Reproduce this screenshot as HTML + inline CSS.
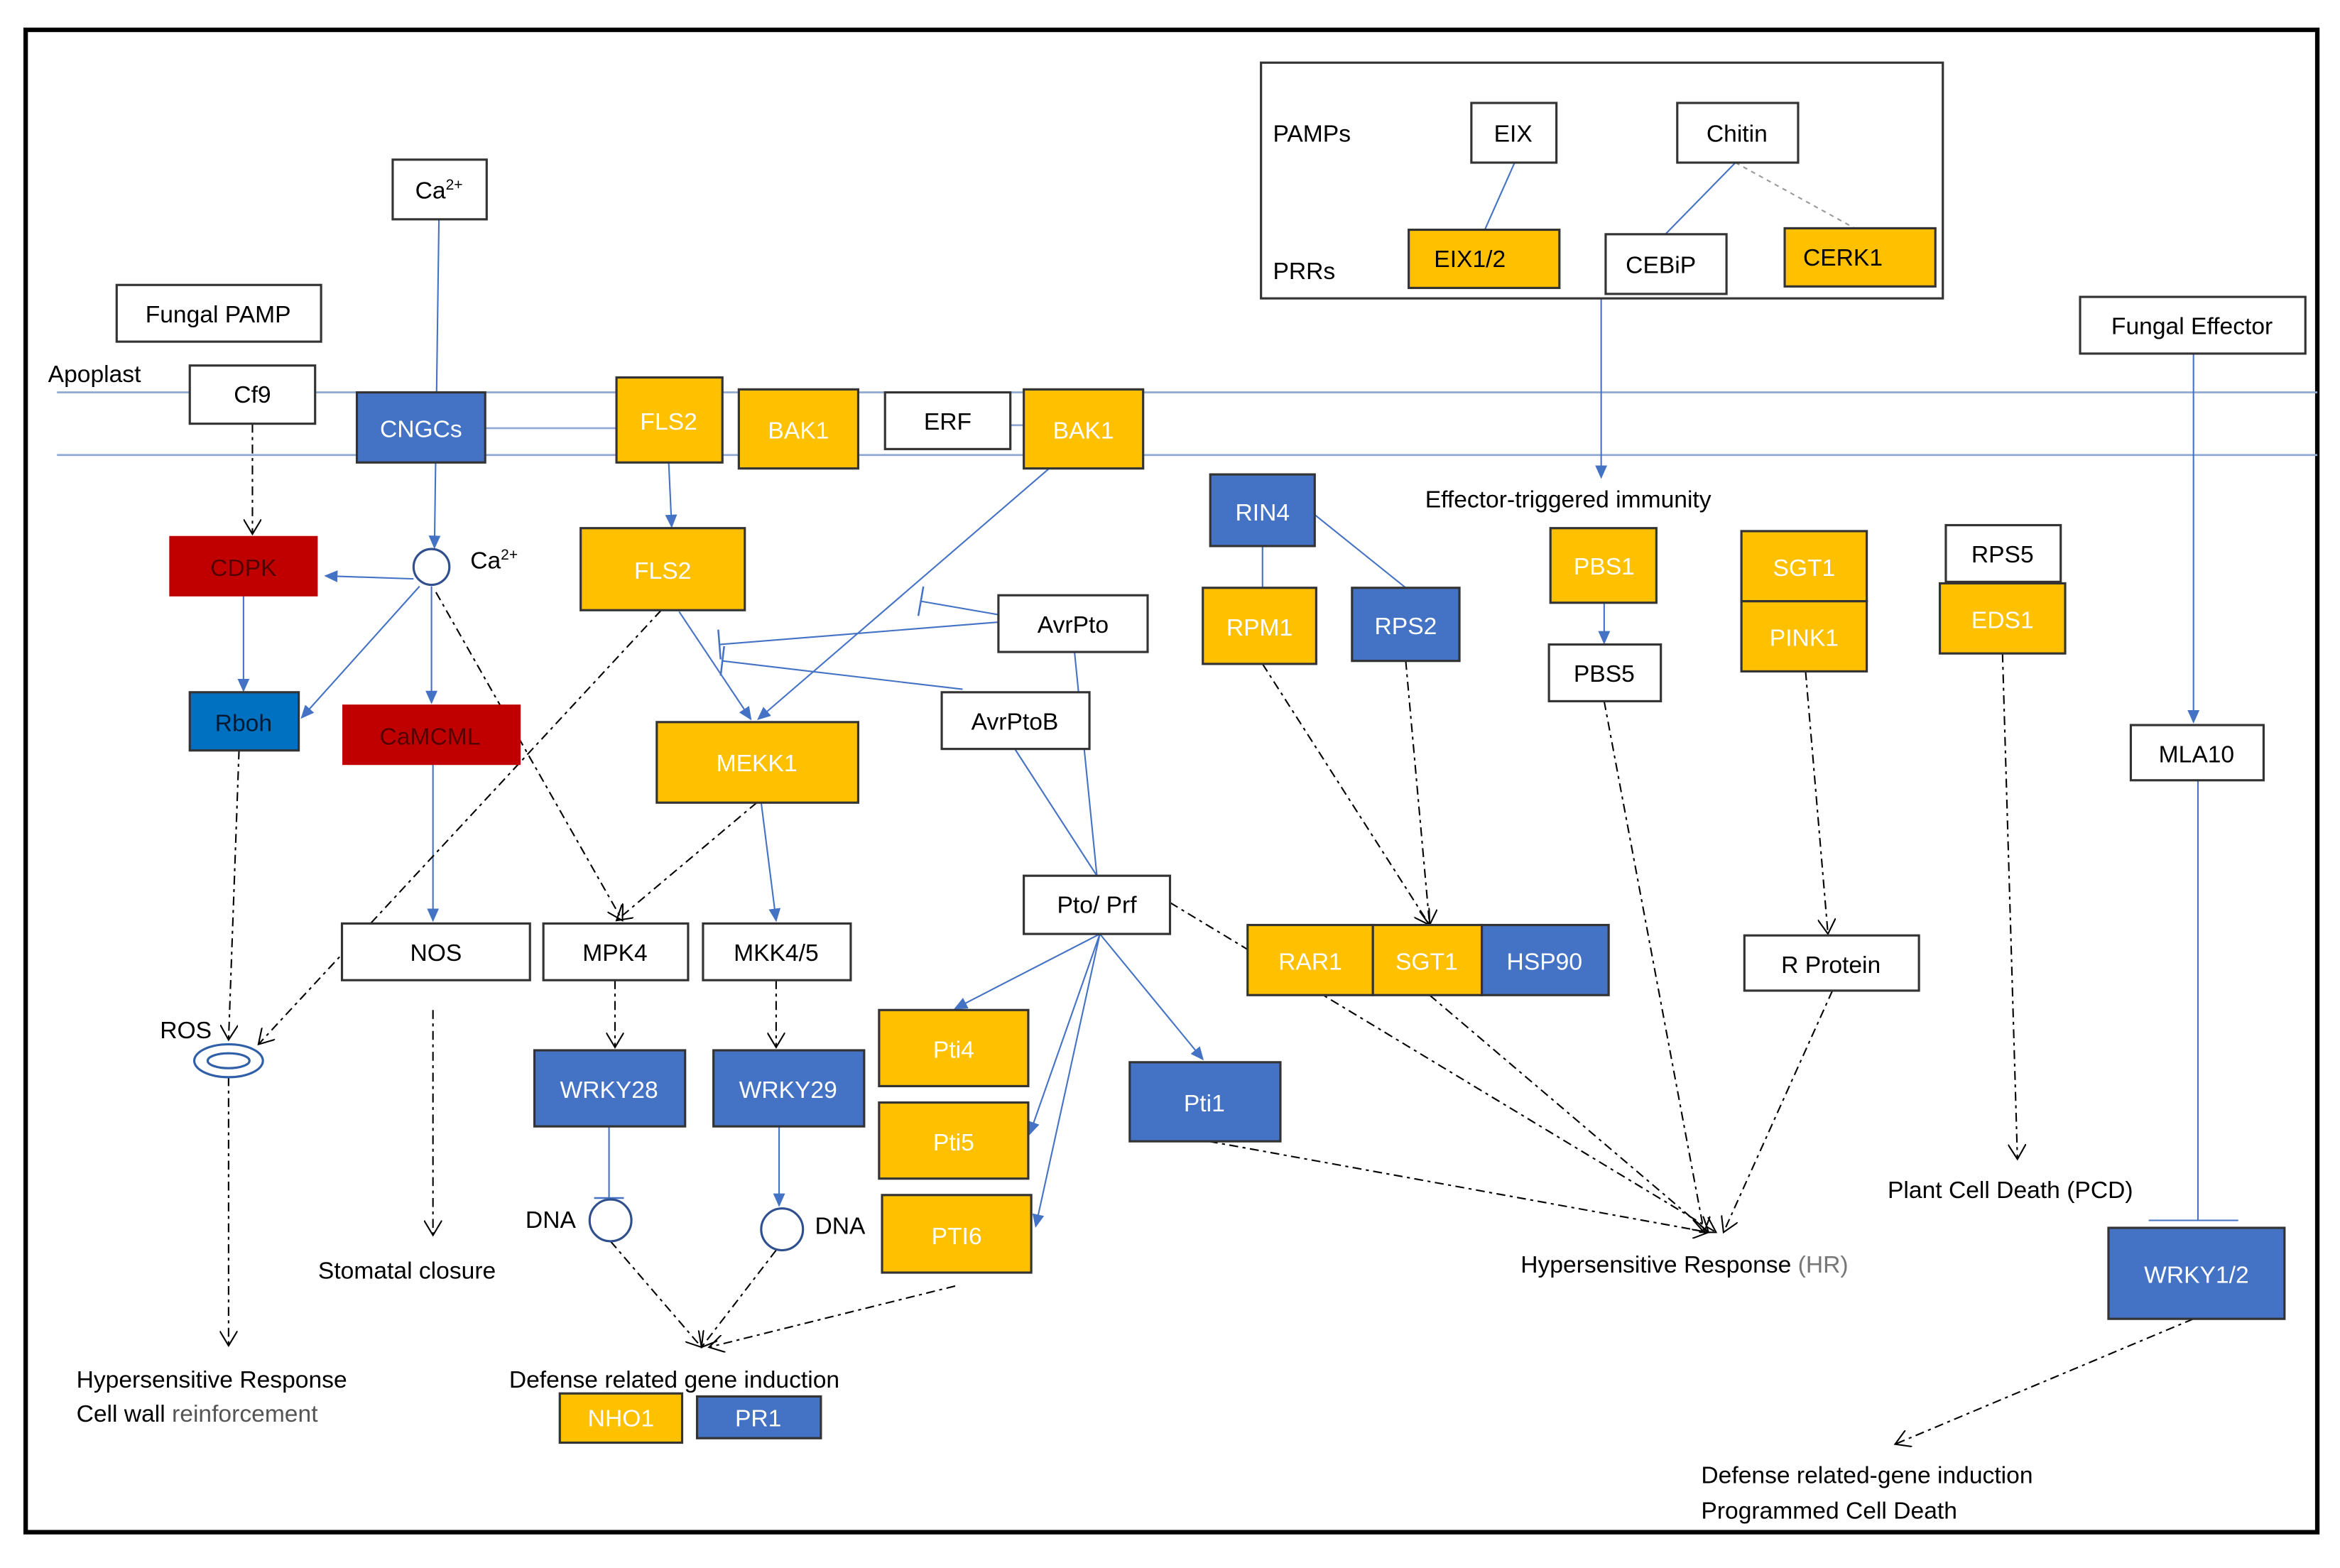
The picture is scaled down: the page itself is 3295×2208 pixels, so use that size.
<!DOCTYPE html>
<html><head><meta charset="utf-8"><style>
html,body{margin:0;padding:0;background:#fff;}
svg{display:block;}
text{font-family:"Liberation Sans",sans-serif;font-size:16px;}
</style></head><body>
<svg width="3295" height="2208" viewBox="0 0 1568 1051" xmlns="http://www.w3.org/2000/svg">
<defs>
<marker id="ab" markerWidth="10" markerHeight="10" refX="8" refY="5" orient="auto" markerUnits="userSpaceOnUse"><path d="M0,1 L9,5 L0,9 z" fill="#4472C4"/></marker>
<marker id="ao" markerWidth="12" markerHeight="12" refX="10" refY="6" orient="auto" markerUnits="userSpaceOnUse"><path d="M0,0 L10,6 L0,12" fill="none" stroke="#000" stroke-width="1"/></marker>
<marker id="tb" markerWidth="4" markerHeight="20" refX="2" refY="10" orient="auto" markerUnits="userSpaceOnUse"><path d="M2,0 L2,20" stroke="#4472C4" stroke-width="1.2"/></marker>
</defs>
<rect x="17" y="20" width="1536" height="1007" fill="#fff" stroke="#000" stroke-width="3"/>
<!-- membranes -->
<line x1="38" y1="263" x2="1553" y2="263" stroke="#8fa8d4" stroke-width="1.3"/>
<line x1="38" y1="305" x2="1553" y2="305" stroke="#8fa8d4" stroke-width="1.3"/>
<line x1="325" y1="287" x2="413" y2="287" stroke="#8fa8d4" stroke-width="1.3"/>
<line x1="677" y1="285" x2="686" y2="285" stroke="#8fa8d4" stroke-width="1.3"/>

<g stroke="#4472C4" stroke-width="1" fill="none">
<line x1="294" y1="147" x2="291" y2="367" marker-end="url(#ab)"/>
<line x1="277" y1="388" x2="218" y2="386" marker-end="url(#ab)"/>
<line x1="281" y1="393" x2="202" y2="481" marker-end="url(#ab)"/>
<line x1="289" y1="393" x2="289" y2="471" marker-end="url(#ab)"/>
<line x1="163" y1="399" x2="163" y2="463" marker-end="url(#ab)"/>
<line x1="448" y1="310" x2="450" y2="353" marker-end="url(#ab)"/>
<line x1="455" y1="410" x2="503" y2="482" marker-end="url(#ab)"/>
<line x1="703" y1="314" x2="508" y2="482" marker-end="url(#ab)"/>
<line x1="669" y1="412" x2="617" y2="403" marker-end="url(#tb)"/>
<line x1="669" y1="417" x2="482" y2="432" marker-end="url(#tb)"/>
<line x1="645" y1="462" x2="484" y2="443" marker-end="url(#tb)"/>
<line x1="720" y1="437" x2="735" y2="587"/>
<line x1="680" y1="502" x2="735" y2="587"/>
<line x1="510" y1="538" x2="520" y2="617" marker-end="url(#ab)"/>
<line x1="290" y1="512" x2="290" y2="617" marker-end="url(#ab)"/>
<line x1="408" y1="755" x2="408" y2="803" marker-end="url(#tb)"/>
<line x1="522" y1="755" x2="522" y2="808" marker-end="url(#ab)"/>
<line x1="737" y1="626" x2="640" y2="676" marker-end="url(#ab)"/>
<line x1="737" y1="626" x2="690" y2="760" marker-end="url(#ab)"/>
<line x1="737" y1="626" x2="694" y2="822" marker-end="url(#ab)"/>
<line x1="737" y1="626" x2="806" y2="710" marker-end="url(#ab)"/>
<line x1="846" y1="366" x2="846" y2="394"/>
<line x1="881" y1="345" x2="942" y2="394"/>
<line x1="1075" y1="404" x2="1075" y2="431" marker-end="url(#ab)"/>
<line x1="1073" y1="200" x2="1073" y2="320" marker-end="url(#ab)"/>
<line x1="1015" y1="109" x2="995" y2="154"/>
<line x1="1163" y1="109" x2="1116" y2="157"/>
<line x1="1470" y1="237" x2="1470" y2="484" marker-end="url(#ab)"/>
<line x1="1473" y1="523" x2="1473" y2="818"/>
<line x1="1440" y1="818" x2="1500" y2="818"/>
</g>
<line x1="1163" y1="109" x2="1243" y2="153" stroke="#999" stroke-dasharray="3,3"/>

<g stroke="#000" stroke-width="1" fill="none" stroke-dasharray="6,3,2,3" marker-end="url(#ao)">
<line x1="169" y1="284" x2="169" y2="358"/>
<line x1="292" y1="397" x2="417" y2="617"/>
<line x1="443" y1="409" x2="173" y2="700"/>
<line x1="160" y1="503" x2="153" y2="697"/>
<line x1="153" y1="722" x2="153" y2="902"/>
<line x1="507" y1="538" x2="413" y2="617"/>
<line x1="412" y1="657" x2="412" y2="702"/>
<line x1="520" y1="657" x2="520" y2="702"/>
<line x1="290" y1="677" x2="290" y2="828"/>
<line x1="409" y1="832" x2="470" y2="903"/>
<line x1="520" y1="838" x2="470" y2="903"/>
<line x1="640" y1="862" x2="475" y2="903"/>
<line x1="784" y1="605" x2="1150" y2="826"/>
<line x1="810" y1="765" x2="1145" y2="826"/>
<line x1="846" y1="445" x2="958" y2="620"/>
<line x1="942" y1="443" x2="958" y2="620"/>
<line x1="958" y1="667" x2="1145" y2="826"/>
<line x1="1075" y1="470" x2="1142" y2="826"/>
<line x1="1210" y1="450" x2="1225" y2="626"/>
<line x1="1228" y1="664" x2="1155" y2="826"/>
<line x1="1342" y1="438" x2="1352" y2="777"/>
<line x1="1470" y1="884" x2="1270" y2="968"/>
</g>

<!-- top box -->
<rect x="845" y="42" width="457" height="158" fill="none" stroke="#333" stroke-width="1.5"/>
<text x="853" y="95">PAMPs</text><text x="853" y="187">PRRs</text>

<g stroke="#333" stroke-width="1.5">
<!-- white boxes -->
<rect x="986" y="69" width="57" height="40" fill="#fff"/>
<rect x="1124" y="69" width="81" height="40" fill="#fff"/>
<rect x="1076" y="157" width="81" height="40" fill="#fff"/>
<rect x="263" y="107" width="63" height="40" fill="#fff"/>
<rect x="78" y="191" width="137" height="38" fill="#fff"/>
<rect x="127" y="245" width="84" height="39" fill="#fff"/>
<rect x="593" y="263" width="84" height="38" fill="#fff"/>
<rect x="669" y="399" width="100" height="38" fill="#fff"/>
<rect x="631" y="464" width="99" height="38" fill="#fff"/>
<rect x="229" y="619" width="126" height="38" fill="#fff"/>
<rect x="364" y="619" width="97" height="38" fill="#fff"/>
<rect x="471" y="619" width="99" height="38" fill="#fff"/>
<rect x="686" y="587" width="98" height="39" fill="#fff"/>
<rect x="1038" y="432" width="75" height="38" fill="#fff"/>
<rect x="1304" y="352" width="77" height="38" fill="#fff"/>
<rect x="1169" y="627" width="117" height="37" fill="#fff"/>
<rect x="1394" y="199" width="151" height="38" fill="#fff"/>
<rect x="1428" y="486" width="89" height="37" fill="#fff"/>
<!-- orange -->
<g fill="#FFC000">
<rect x="944" y="154" width="101" height="39"/>
<rect x="1196" y="153" width="101" height="39"/>
<rect x="413" y="253" width="71" height="57"/>
<rect x="495" y="261" width="80" height="53"/>
<rect x="686" y="261" width="80" height="53"/>
<rect x="389" y="354" width="110" height="55"/>
<rect x="440" y="484" width="135" height="54"/>
<rect x="589" y="677" width="100" height="51"/>
<rect x="589" y="739" width="100" height="51"/>
<rect x="591" y="801" width="100" height="52"/>
<rect x="375" y="934" width="82" height="33"/>
<rect x="806" y="394" width="76" height="51"/>
<rect x="836" y="620" width="84" height="47"/>
<rect x="920" y="620" width="73" height="47"/>
<rect x="1039" y="354" width="71" height="50"/>
<rect x="1167" y="356" width="84" height="47"/>
<rect x="1167" y="403" width="84" height="47"/>
<rect x="1300" y="391" width="84" height="47"/>
</g>
<g fill="#4472C4">
<rect x="239" y="263" width="86" height="47"/>
<rect x="358" y="704" width="101" height="51"/>
<rect x="478" y="704" width="101" height="51"/>
<rect x="757" y="712" width="101" height="53"/>
<rect x="467" y="936" width="83" height="28"/>
<rect x="811" y="318" width="70" height="48"/>
<rect x="906" y="394" width="72" height="49"/>
<rect x="993" y="620" width="85" height="47"/>
<rect x="1413" y="823" width="118" height="61"/>
</g>
<rect x="127" y="464" width="73" height="39" fill="#0070C0"/>
<g fill="#C00000" stroke="#C00000">
<rect x="114" y="360" width="98" height="39"/>
<rect x="230" y="473" width="118" height="39"/>
</g>
</g>
<circle cx="289" cy="380" r="12" fill="#fff" stroke="#2f4f8f" stroke-width="1.5"/>
<circle cx="409" cy="818" r="14" fill="#fff" stroke="#2f4f8f" stroke-width="1.5"/>
<circle cx="524" cy="824" r="14" fill="#fff" stroke="#2f4f8f" stroke-width="1.5"/>
<ellipse cx="153" cy="711" rx="23" ry="11" fill="#fff" stroke="#2f5fa8" stroke-width="1.5"/>
<ellipse cx="153" cy="711" rx="14" ry="5" fill="#fff" stroke="#2f5fa8" stroke-width="1.5"/>

<!-- labels -->
<g text-anchor="middle">
<text x="1014" y="95">EIX</text><text x="1164" y="95">Chitin</text>
<text x="985" y="179">EIX1/2</text><text x="1113" y="183">CEBiP</text><text x="1235" y="178">CERK1</text>
<text x="294" y="133">Ca<tspan font-size="10" dy="-6">2+</tspan></text>
<text x="146" y="216">Fungal PAMP</text>
<text x="169" y="270">Cf9</text>
<text x="635" y="288">ERF</text>
<text x="719" y="424">AvrPto</text>
<text x="680" y="489">AvrPtoB</text>
<text x="292" y="644">NOS</text><text x="412" y="644">MPK4</text><text x="520" y="644">MKK4/5</text>
<text x="735" y="612">Pto/ Prf</text>
<text x="1075" y="457">PBS5</text><text x="1342" y="377">RPS5</text>
<text x="1227" y="652">R Protein</text>
<text x="1469" y="224">Fungal Effector</text>
<text x="1472" y="511">MLA10</text>
<g fill="#fff">
<text x="282" y="293">CNGCs</text>
<text x="448" y="288">FLS2</text><text x="535" y="294">BAK1</text><text x="726" y="294">BAK1</text>
<text x="444" y="388">FLS2</text><text x="507" y="517">MEKK1</text>
<text x="639" y="709">Pti4</text><text x="639" y="771">Pti5</text><text x="641" y="834">PTI6</text>
<text x="416" y="956">NHO1</text><text x="508" y="956">PR1</text>
<text x="408" y="736">WRKY28</text><text x="528" y="736">WRKY29</text>
<text x="807" y="745">Pti1</text>
<text x="846" y="349">RIN4</text><text x="844" y="426">RPM1</text><text x="942" y="425">RPS2</text>
<text x="878" y="650">RAR1</text><text x="956" y="650">SGT1</text><text x="1035" y="650">HSP90</text>
<text x="1075" y="385">PBS1</text><text x="1209" y="386">SGT1</text><text x="1209" y="433">PINK1</text>
<text x="1342" y="421">EDS1</text>
<text x="1472" y="860">WRKY1/2</text>
</g>
<text x="163" y="386" fill="#500">CDPK</text>
<text x="288" y="499" fill="#500">CaMCML</text>
<text x="163" y="490" fill="#001a33">Rboh</text>
</g>
<text x="32" y="256">Apoplast</text>
<text x="315" y="381">Ca<tspan font-size="10" dy="-6">2+</tspan></text>
<text x="107" y="696">ROS</text>
<text x="352" y="823">DNA</text><text x="546" y="827">DNA</text>
<text x="955" y="340">Effector-triggered immunity</text>
<text x="51" y="930">Hypersensitive Response</text>
<text x="51" y="953">Cell wall <tspan fill="#555">reinforcement</tspan></text>
<text x="213" y="857">Stomatal closure</text>
<text x="341" y="930">Defense related gene induction</text>
<text x="1019" y="853">Hypersensitive Response <tspan fill="#777">(HR)</tspan></text>
<text x="1265" y="803">Plant Cell Death (PCD)</text>
<text x="1140" y="994">Defense related-gene induction</text>
<text x="1140" y="1018">Programmed Cell Death</text>
</svg>
</body></html>
